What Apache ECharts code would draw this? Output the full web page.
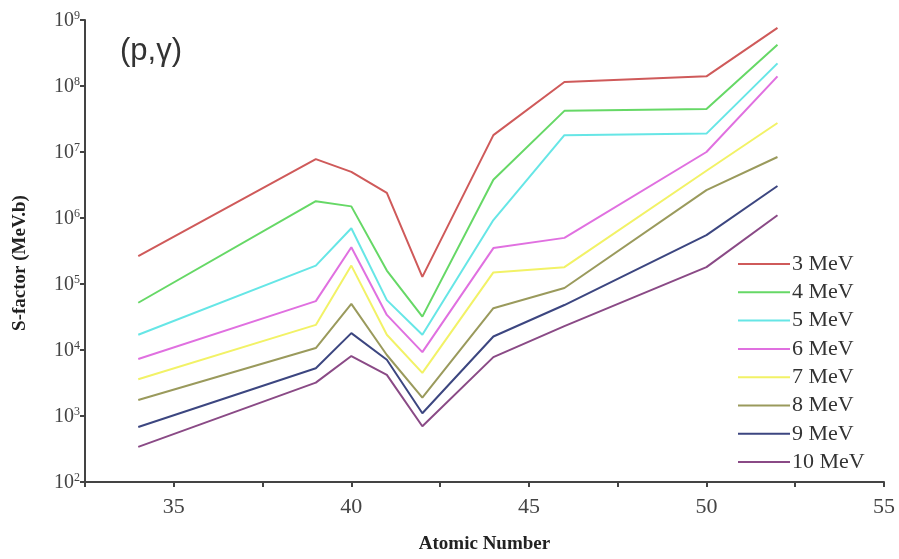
<!DOCTYPE html>
<html>
<head>
<meta charset="utf-8">
<script src="https://cdn.jsdelivr.net/npm/echarts@6/dist/echarts.min.js"></script>
<style>html,body{margin:0;padding:0;background:#fff;}#c{width:899px;height:559px;}</style>
</head>
<body>
<div id="c"></div>
<script>
const atomicNumbers = [34, 39, 40, 41, 42, 44, 46, 50, 52];
const seriesNames = ['3 MeV', '4 MeV', '5 MeV', '6 MeV', '7 MeV', '8 MeV', '9 MeV', '10 MeV'];
const s3 = [2.65e5, 7.8e6, 5.0e6, 2.4e6, 1.28e5, 1.8e7, 1.15e8, 1.4e8, 7.6e8];
const s4 = [5.2e4, 1.8e6, 1.5e6, 1.6e5, 3.2e4, 3.8e6, 4.2e7, 4.5e7, 4.2e8];
const s5 = [1.7e4, 1.9e5, 7.0e5, 5.7e4, 1.7e4, 9.3e5, 1.8e7, 1.9e7, 2.2e8];
const s6 = [7.3e3, 5.5e4, 3.6e5, 3.4e4, 9.3e3, 3.5e5, 5.0e5, 1.0e7, 1.4e8];
const s7 = [3.6e3, 2.4e4, 1.9e5, 1.7e4, 4.5e3, 1.5e5, 1.8e5, 5.2e6, 2.75e7];
const s8 = [1.75e3, 1.07e4, 5.0e4, 8.4e3, 1.9e3, 4.3e4, 8.7e4, 2.65e6, 8.4e6];
const s9 = [680, 5.3e3, 1.8e4, 7.1e3, 1.1e3, 1.6e4, 4.8e4, 5.5e5, 3.05e6];
const s10 = [340, 3.2e3, 8.1e3, 4.2e3, 700, 7.8e3, 2.3e4, 1.8e5, 1.1e6];
const allSeries = [s3, s4, s5, s6, s7, s8, s9, s10];
const colors = ['#cf5a5a', '#66d866', '#66e6e6', '#e070e0', '#f2f266', '#9a9a5c', '#3c4680', '#8a4a86'];
const xTickLabels = [35, 40, 45, 50, 55];
const titleText = '(p,\u03b3)';

const chart = echarts.init(document.getElementById('c'));
const serif = '"Liberation Serif", "DejaVu Serif", serif';
chart.setOption({
  animation: false,
  backgroundColor: '#fff',
  title: {
    text: titleText, left: 115, top: 31,
    textStyle: { fontFamily: '"Liberation Sans", "DejaVu Sans", sans-serif', fontSize: 31, fontWeight: 'normal', color: '#333' }
  },
  grid: { left: 85, right: 15, top: 20, bottom: 77 },
  legend: {
    orient: 'vertical', left: 733, top: 248,
    icon: 'rect', itemWidth: 52, itemHeight: 2, itemGap: 6.3,
    data: seriesNames,
    textStyle: { fontFamily: serif, fontSize: 22, lineHeight: 22, color: '#333', padding: [0, 0, 0, -3] }
  },
  xAxis: {
    type: 'value', min: 32.5, max: 55, interval: 2.5,
    name: 'Atomic Number', nameLocation: 'middle', nameGap: 53,
    nameTextStyle: { fontFamily: serif, fontSize: 19, fontWeight: 'bold', color: '#222' },
    axisLine: { show: true, lineStyle: { color: '#444', width: 2 } },
    axisTick: { show: true, length: 5, lineStyle: { color: '#444', width: 2 } },
    axisLabel: {
      margin: 14, fontFamily: serif, fontSize: 22, color: '#444',
      formatter: v => xTickLabels.indexOf(v) >= 0 ? String(v) : ''
    },
    splitLine: { show: false }
  },
  yAxis: {
    type: 'log', logBase: 10, min: 100, max: 1e9, splitNumber: 7,
    name: 'S-factor (MeV.b)', nameLocation: 'middle', nameGap: 55, nameRotate: 90,
    nameTextStyle: { fontFamily: serif, fontSize: 19, fontWeight: 'bold', color: '#222', padding: [0, 24, 0, 0] },
    axisLine: { show: true, lineStyle: { color: '#444', width: 2 } },
    axisTick: { show: true, length: 5, lineStyle: { color: '#444', width: 2 } },
    axisLabel: {
      margin: 5, color: '#444',
      formatter: v => '{b|10}{s|' + Math.round(Math.log10(v)) + '}',
      rich: {
        b: { fontFamily: serif, fontSize: 20, color: '#444', verticalAlign: 'bottom' },
        s: { fontFamily: serif, fontSize: 12, color: '#444', verticalAlign: 'top', padding: [0, 0, 9, 0] }
      }
    },
    splitLine: { show: false }
  },
  series: allSeries.map((arr, i) => ({
    name: seriesNames[i], type: 'line', symbol: 'none',
    data: atomicNumbers.map((x, j) => [x, arr[j]]),
    lineStyle: { color: colors[i], width: 2 },
    itemStyle: { color: colors[i] }
  }))
});
</script>
</body>
</html>
